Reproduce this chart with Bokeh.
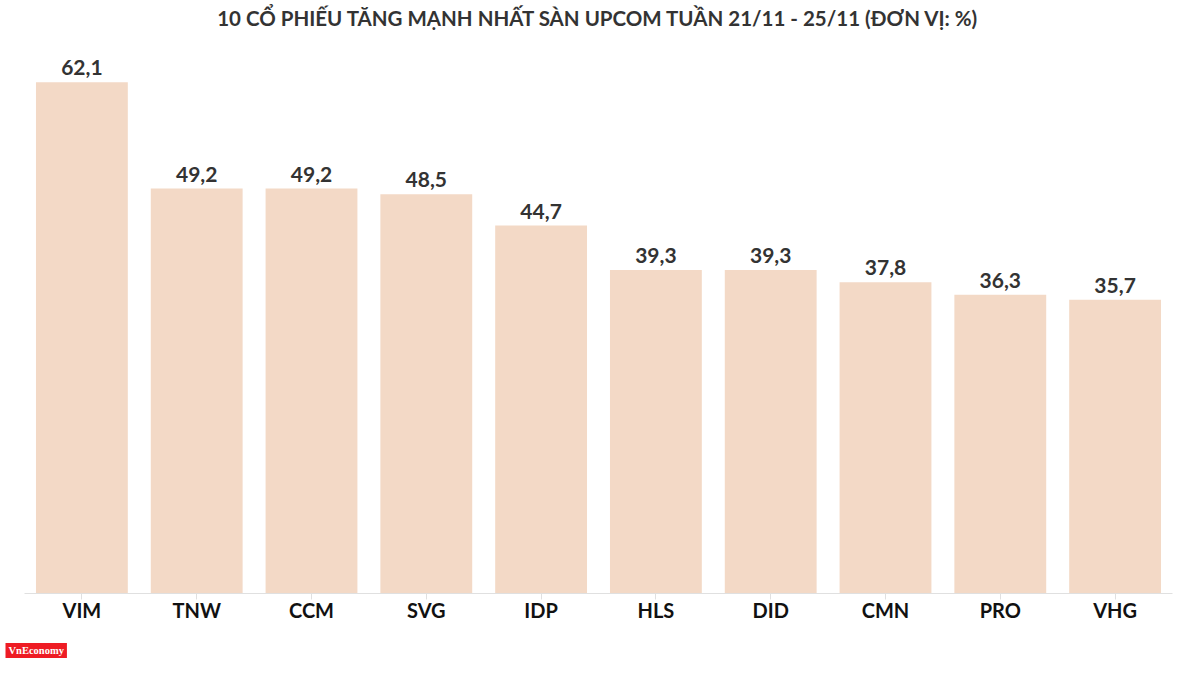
from bokeh.plotting import figure
from bokeh.models import ColumnDataSource, Range1d, Title, Label
from bokeh.core.properties import value
from bokeh.embed import file_html
from bokeh.resources import INLINE

tickers = ["VIM", "TNW", "CCM", "SVG", "IDP", "HLS", "DID", "CMN", "PRO", "VHG"]
changes = [62.1, 49.2, 49.2, 48.5, 44.7, 39.3, 39.3, 37.8, 36.3, 35.7]
labels = [f"{v:.1f}".replace(".", ",") for v in changes]
title_text = "10 CỔ PHIẾU TĂNG MẠNH NHẤT SÀN UPCOM TUẦN 21/11 - 25/11 (ĐƠN VỊ: %)"

src = ColumnDataSource(dict(x=tickers, top=changes, lab=labels))

FONT = "Lato"
YMAX = 72.04
p = figure(x_range=tickers, y_range=Range1d(0, YMAX), width=1184, height=674,
           output_backend="svg", toolbar_location=None,
           min_border_left=24, min_border_right=12, min_border_top=0, min_border_bottom=0)

p.vbar(x="x", top="top", width=0.8, source=src, fill_color="#f3d9c6", line_color=None)
p.text(x="x", y="top", text="lab", source=src, text_align="center", text_baseline="bottom",
       y_offset=-7, text_font=value(FONT), text_font_size="21px", text_font_style="bold",
       text_color="#333333")

title = Label(x=len(tickers) / 2, y=YMAX - 18 / 8.245, text=title_text,
              text_align="center", text_baseline="middle",
              text_font=FONT, text_font_size="20.5px", text_font_style="bold",
              text_color="#333333")
p.add_layout(title)

p.yaxis.visible = False
p.xgrid.grid_line_color = None
p.ygrid.grid_line_color = None
p.outline_line_color = None
p.x_range.range_padding = 0
p.xaxis.axis_line_color = "#e0e0e0"
p.xaxis.major_tick_line_color = "#e0e0e0"
p.xaxis.major_tick_in = 0
p.xaxis.major_tick_out = 6
p.xaxis.minor_tick_line_color = None
p.xaxis.major_label_text_font = FONT
p.xaxis.major_label_text_font_size = "20px"
p.xaxis.major_label_text_font_style = "bold"
p.xaxis.major_label_text_color = "#111111"
p.xaxis.major_label_standoff = -2

logo = Title(text="VnEconomy", align="left", offset=-19, standoff=33,
             text_font="Liberation Serif", text_font_size="10.5px", text_font_style="bold",
             text_color="white", background_fill_color="#ee1c24", padding=(3, 2))
p.add_layout(logo, "below")

open("out.html", "w").write(file_html(p, INLINE))
